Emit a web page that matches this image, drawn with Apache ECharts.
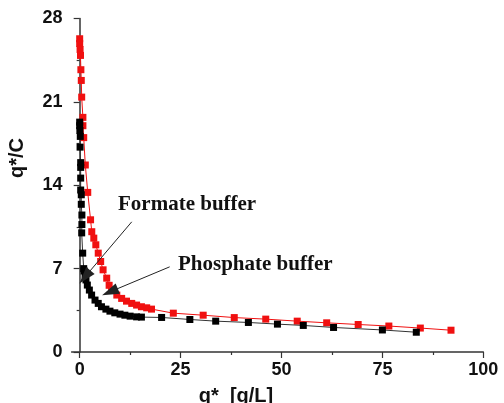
<!DOCTYPE html>
<html>
<head>
<meta charset="utf-8">
<script src="https://cdn.jsdelivr.net/npm/echarts@6/dist/echarts.min.js"></script>
<style>
  html, body { margin: 0; padding: 0; background: #fff; }
  #main { width: 504px; height: 403px; }
</style>
</head>
<body>
<div id="main"></div>
<script>
// phosphate buffer (red)
var phosX = [0.0, 0.0, 0.1, 0.2, 0.3, 0.4, 0.5, 0.8, 0.8, 1.0, 1.4, 2.0, 2.7, 3.0, 3.5, 4.0, 4.6, 5.2, 5.8, 6.7, 7.3, 7.9, 9.2, 10.4, 11.6, 12.9, 14.1, 15.3, 16.6, 17.8, 23.2, 30.6, 38.3, 46.1, 53.9, 61.2, 69.0, 76.6, 84.4, 92.0];
var phosY = [26.3, 25.9, 25.4, 24.9, 23.7, 22.8, 21.4, 19.7, 19.0, 18.0, 15.7, 13.4, 11.1, 10.1, 9.56, 9.0, 8.3, 7.6, 6.9, 6.2, 5.6, 5.2, 4.78, 4.5, 4.27, 4.08, 3.94, 3.8, 3.71, 3.6, 3.26, 3.09, 2.89, 2.76, 2.59, 2.45, 2.31, 2.18, 2.01, 1.83];
// formate buffer (black)
var formX = [0.0, 0.0, 0.05, 0.15, 0.1, 0.25, 0.25, 0.25, 0.25, 0.4, 0.4, 0.55, 0.55, 0.5, 0.75, 1.0, 1.1, 1.35, 1.56, 1.9, 2.4, 2.96, 3.8, 4.6, 5.4, 6.5, 7.5, 8.7, 10.0, 11.2, 12.5, 14.1, 15.3, 20.3, 27.3, 33.7, 41.8, 49.0, 55.4, 62.9, 75.0, 83.4];
var formY = [19.3, 19.0, 18.6, 18.1, 17.2, 15.9, 15.5, 14.6, 13.6, 13.2, 12.4, 11.5, 10.7, 10.0, 8.3, 7.0, 6.8, 6.47, 6.05, 5.62, 5.2, 4.78, 4.36, 4.08, 3.8, 3.6, 3.43, 3.29, 3.18, 3.09, 3.01, 2.95, 2.93, 2.90, 2.73, 2.59, 2.48, 2.34, 2.23, 2.06, 1.85, 1.66];

var xTicks = [0, 25, 50, 75, 100];
var xMinorTicks = [12.5, 37.5, 62.5, 87.5];

function pairs(xs, ys) {
  return xs.map(function (x, i) { return [x, ys[i]]; });
}

var labelFont = { color: '#111', fontFamily: 'Liberation Sans', fontWeight: 'bold', fontSize: 18 };

var option = {
  animation: false,
  grid: { left: 71.6, right: 20.7, top: 18.5, bottom: 51, containLabel: false },
  xAxis: [{
    type: 'value', min: -2, max: 100,
    axisLine: { lineStyle: { color: '#333', width: 1.5 } },
    axisTick: { customValues: xTicks, length: 6, lineStyle: { color: '#333', width: 1.2 } },
    axisLabel: Object.assign({ customValues: xTicks, margin: 9 }, labelFont),
    splitLine: { show: false }
  }, {
    type: 'value', min: -2, max: 100, position: 'bottom',
    axisLine: { show: false },
    axisTick: { customValues: xMinorTicks, length: 3, lineStyle: { color: '#333', width: 1.2 } },
    axisLabel: { show: false },
    splitLine: { show: false }
  }],
  yAxis: {
    type: 'value', min: 0, max: 28, interval: 7,
    axisLine: { show: true, lineStyle: { color: '#333', width: 1.5 } },
    axisTick: { show: true, length: 6, lineStyle: { color: '#333', width: 1.2 } },
    minorTick: { show: true, splitNumber: 2, length: 3, lineStyle: { color: '#333', width: 1.2 } },
    axisLabel: Object.assign({ margin: 9 }, labelFont),
    splitLine: { show: false }
  },
  series: [{
    name: 'Phosphate buffer',
    type: 'line',
    data: pairs(phosX, phosY),
    symbol: 'rect', symbolSize: 7,
    itemStyle: { color: '#f01010' },
    lineStyle: { color: '#f01010', width: 1 },
    z: 3,
    markLine: {
      silent: true, symbol: ['none', 'triangle'], symbolSize: [11, 17],
      label: { show: false },
      lineStyle: { color: '#222', width: 1, type: 'solid' },
      data: [
        [{ coord: [12.9, 10.93] }, { coord: [1.3, 6.3] }],
        [{ coord: [22.3, 7.15] }, { coord: [7.5, 5.05] }]
      ]
    }
  }, {
    name: 'Formate buffer',
    type: 'line',
    data: pairs(formX, formY),
    symbol: 'rect', symbolSize: 7,
    itemStyle: { color: '#000' },
    lineStyle: { color: '#333', width: 1 },
    z: 4
  }],
  graphic: [{
    type: 'text', left: 118, top: 194,
    style: { text: 'Formate buffer', font: 'bold 21px "Liberation Serif"', fill: '#111' }
  }, {
    type: 'text', left: 178, top: 254,
    style: { text: 'Phosphate buffer', font: 'bold 21px "Liberation Serif"', fill: '#111' }
  }, {
    type: 'text', x: 17, y: 158, rotation: Math.PI / 2,
    style: { text: 'q*/C', font: 'bold 20px "Liberation Sans"', fill: '#111', align: 'center', verticalAlign: 'middle' }
  }, {
    type: 'text', x: 236, y: 396,
    style: { text: 'q*  [g/L]', font: 'bold 20px "Liberation Sans"', fill: '#111', align: 'center', verticalAlign: 'middle' }
  }]
};

var chart = echarts.init(document.getElementById('main'));
chart.setOption(option);
</script>
</body>
</html>
